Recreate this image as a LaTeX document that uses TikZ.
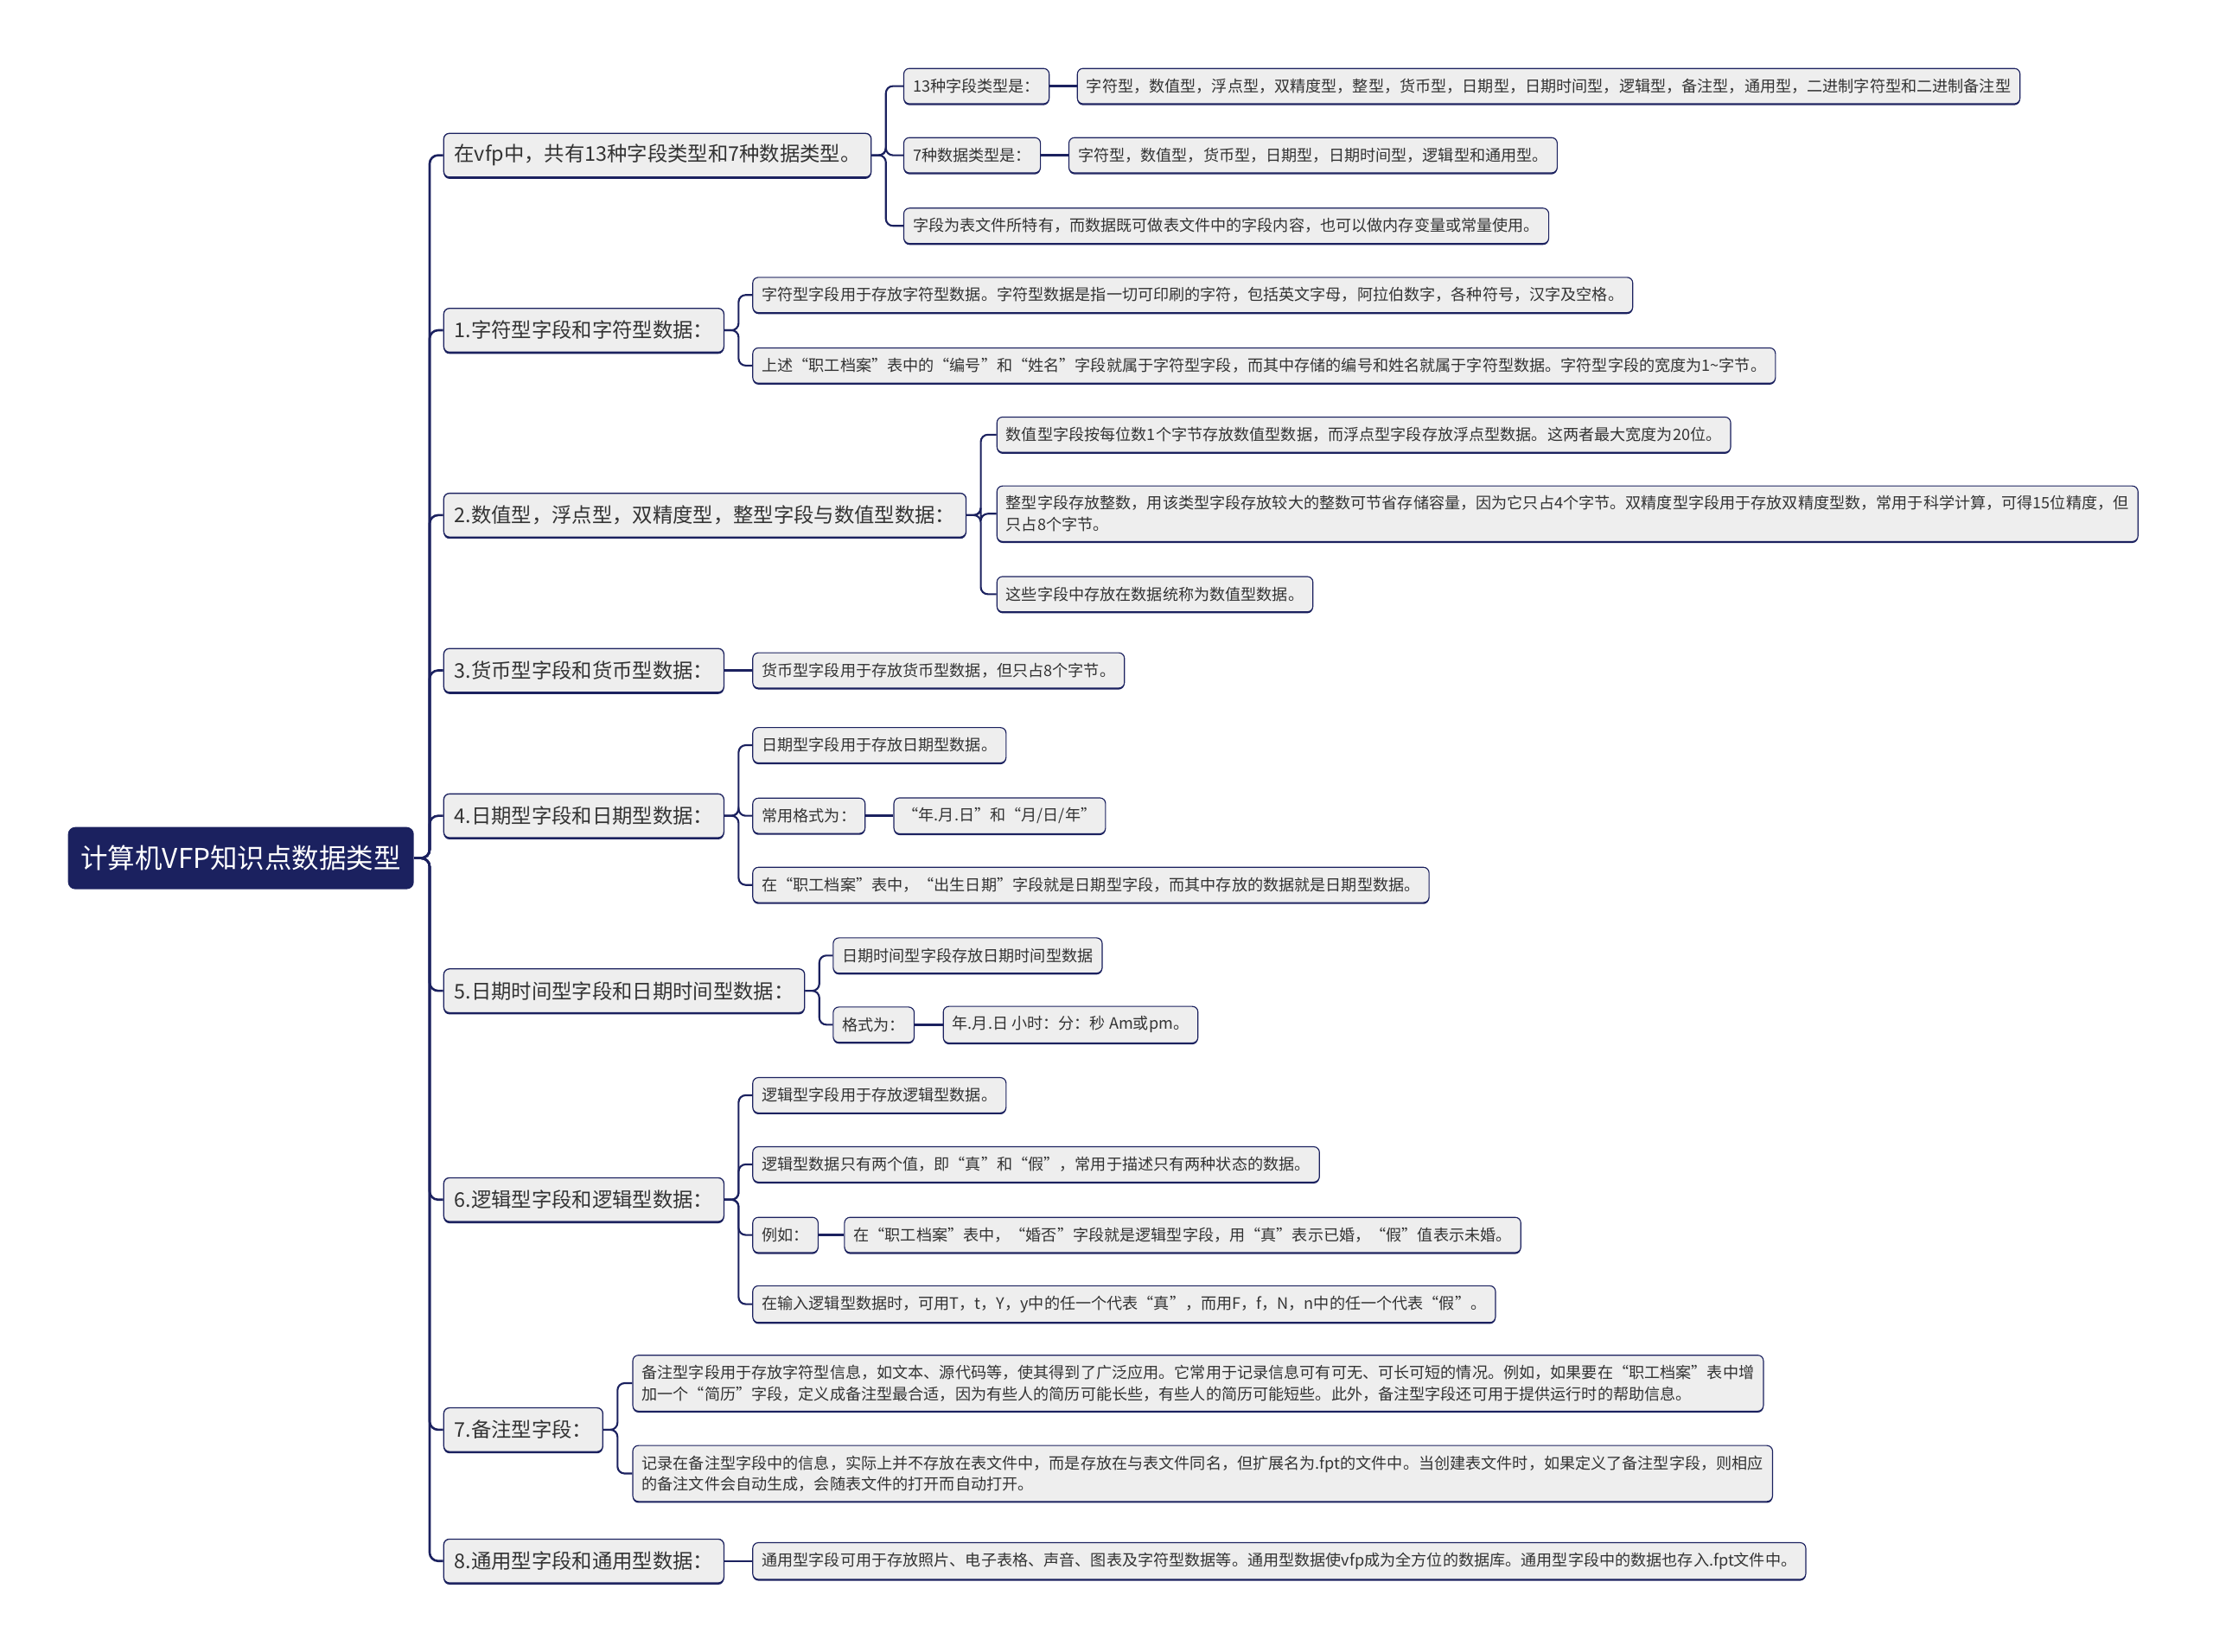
\documentclass[tikz,border=0pt]{standalone}
\usepackage{fontspec}
\setmainfont{Noto Sans CJK SC}
\usepackage{tikz}
\usetikzlibrary{positioning,shadows}
\definecolor{navy}{HTML}{1B215F}
\definecolor{boxbg}{HTML}{EEEEEE}
\definecolor{txt}{HTML}{333333}

\begin{document}
\begin{tikzpicture}[x=1pt, y=-1pt,
  rootbox/.style={anchor=west, fill=navy, text=white, rounded corners=5pt, minimum height=44pt, minimum width=245pt, inner xsep=9pt, font=\fontsize{19.3}{22}\selectfont},
  topicbox/.style={anchor=west, draw=navy, line width=0.8pt, fill=boxbg, text=txt, rounded corners=4pt, minimum height=31pt, inner xsep=7.5pt, font=\fontsize{14.3}{17}\selectfont, general shadow={fill=navy, shadow yshift=-1.2pt}},
  leafbox/.style={anchor=west, draw=navy, line width=0.7pt, fill=boxbg, text=txt, rounded corners=4pt, minimum height=25pt, inner xsep=6.5pt, inner ysep=7pt, align=left, font=\fontsize{11.1}{15}\selectfont, general shadow={fill=navy, shadow yshift=-1pt}},
  spine/.style={draw=navy, line width=1.6pt, rounded corners=6pt},
  linkline/.style={draw=navy, line width=1.3pt, rounded corners=5pt},
  pairline/.style={draw=navy, line width=2pt}]
\useasboundingbox (0,0) rectangle (1568,1170);

% centre and main topics
\node[rootbox] (vfp) at (48,608) {计算机VFP知识点数据类型};
\node[topicbox] (all) at (314,110) {在vfp中，共有13种字段类型和7种数据类型。};
\node[topicbox] (chr) at (314,234) {1.字符型字段和字符型数据：};
\node[topicbox] (num) at (314,365) {2.数值型，浮点型，双精度型，整型字段与数值型数据：};
\node[topicbox] (cur) at (314,475) {3.货币型字段和货币型数据：};
\node[topicbox] (dat) at (314,578) {4.日期型字段和日期型数据：};
\node[topicbox] (dtm) at (314,702) {5.日期时间型字段和日期时间型数据：};
\node[topicbox] (lgc) at (314,850) {6.逻辑型字段和逻辑型数据：};
\node[topicbox] (memo) at (314,1013) {7.备注型字段：};
\node[topicbox] (gen) at (314,1106) {8.通用型字段和通用型数据：};

% overview
\node[leafbox] (allA) at (640,61) {13种字段类型是：};
\node[leafbox] (allAx) at (763,61) {字符型，数值型，浮点型，双精度型，整型，货币型，日期型，日期时间型，逻辑型，备注型，通用型，二进制字符型和二进制备注型};
\node[leafbox] (allB) at (640,110) {7种数据类型是：};
\node[leafbox] (allBx) at (757,110) {字符型，数值型，货币型，日期型，日期时间型，逻辑型和通用型。};
\node[leafbox] (allC) at (640,160) {字段为表文件所特有，而数据既可做表文件中的字段内容，也可以做内存变量或常量使用。};

% 1 to 8
\node[leafbox] (chrA) at (533,209) {字符型字段用于存放字符型数据。字符型数据是指一切可印刷的字符，包括英文字母，阿拉伯数字，各种符号，汉字及空格。};
\node[leafbox] (chrB) at (533,259) {上述“职工档案”表中的“编号”和“姓名”字段就属于字符型字段，而其中存储的编号和姓名就属于字符型数据。字符型字段的宽度为1{\textasciitilde}字节。};
\node[leafbox] (numA) at (706,308) {数值型字段按每位数1个字节存放数值型数据，而浮点型字段存放浮点型数据。这两者最大宽度为20位。};
\node[leafbox] (numB) at (706,364) {整型字段存放整数，用该类型字段存放较大的整数可节省存储容量，因为它只占4个字节。双精度型字段用于存放双精度型数，常用于科学计算，可得15位精度，但\\只占8个字节。};
\node[leafbox] (numC) at (706,421) {这些字段中存放在数据统称为数值型数据。};
\node[leafbox] (curA) at (533,475) {货币型字段用于存放货币型数据，但只占8个字节。};
\node[leafbox] (datA) at (533,528) {日期型字段用于存放日期型数据。};
\node[leafbox] (datB) at (533,578) {常用格式为：};
\node[leafbox] (datBx) at (633,578) {“年.月.日”和“月/日/年”};
\node[leafbox] (datC) at (533,627) {在“职工档案”表中，“出生日期”字段就是日期型字段，而其中存放的数据就是日期型数据。};
\node[leafbox] (dtmA) at (590,677) {日期时间型字段存放日期时间型数据};
\node[leafbox] (dtmB) at (590,726) {格式为：};
\node[leafbox] (dtmBx) at (668,726) {年.月.日 小时：分：秒 Am或pm。};
\node[leafbox] (lgcA) at (533,776) {逻辑型字段用于存放逻辑型数据。};
\node[leafbox] (lgcB) at (533,825) {逻辑型数据只有两个值，即“真”和“假”，常用于描述只有两种状态的数据。};
\node[leafbox] (lgcC) at (533,875) {例如：};
\node[leafbox] (lgcCx) at (598,875) {在“职工档案”表中，“婚否”字段就是逻辑型字段，用“真”表示已婚，“假”值表示未婚。};
\node[leafbox] (lgcD) at (533,924) {在输入逻辑型数据时，可用T，t，Y，y中的任一个代表“真”，而用F，f，N，n中的任一个代表“假”。};
\node[leafbox] (memoA) at (448,980) {备注型字段用于存放字符型信息，如文本、源代码等，使其得到了广泛应用。它常用于记录信息可有可无、可长可短的情况。例如，如果要在“职工档案”表中增\\加一个“简历”字段，定义成备注型最合适，因为有些人的简历可能长些，有些人的简历可能短些。此外，备注型字段还可用于提供运行时的帮助信息。};
\node[leafbox] (memoB) at (448,1044) {记录在备注型字段中的信息，实际上并不存放在表文件中，而是存放在与表文件同名，但扩展名为.fpt的文件中。当创建表文件时，如果定义了备注型字段，则相应\\的备注文件会自动生成，会随表文件的打开而自动打开。};
\node[leafbox] (genA) at (533,1106) {通用型字段可用于存放照片、电子表格、声音、图表及字符型数据等。通用型数据使vfp成为全方位的数据库。通用型字段中的数据也存入.fpt文件中。};

% spine
\draw[spine] (vfp.east) -- ++(11,0) |- (all.west);
\draw[spine] (vfp.east) -- ++(11,0) |- (chr.west);
\draw[spine] (vfp.east) -- ++(11,0) |- (num.west);
\draw[spine] (vfp.east) -- ++(11,0) |- (cur.west);
\draw[spine] (vfp.east) -- ++(11,0) |- (dat.west);
\draw[spine] (vfp.east) -- ++(11,0) |- (dtm.west);
\draw[spine] (vfp.east) -- ++(11,0) |- (lgc.west);
\draw[spine] (vfp.east) -- ++(11,0) |- (memo.west);
\draw[spine] (vfp.east) -- ++(11,0) |- (gen.west);

% branches
\draw[linkline] (all.east) -- ++(10,0) |- (allA.west);
\draw[linkline] (all.east) -- ++(10,0) |- (allB.west);
\draw[linkline] (all.east) -- ++(10,0) |- (allC.west);
\draw[linkline] (chr.east) -- ++(10,0) |- (chrA.west);
\draw[linkline] (chr.east) -- ++(10,0) |- (chrB.west);
\draw[linkline] (num.east) -- ++(10,0) |- (numA.west);
\draw[linkline] (num.east) -- ++(10,0) |- (numB.west);
\draw[linkline] (num.east) -- ++(10,0) |- (numC.west);
\draw[linkline] (cur.east) -- (curA.west);
\draw[linkline] (dat.east) -- ++(10,0) |- (datA.west);
\draw[linkline] (dat.east) -- ++(10,0) |- (datB.west);
\draw[linkline] (dat.east) -- ++(10,0) |- (datC.west);
\draw[linkline] (dtm.east) -- ++(10,0) |- (dtmA.west);
\draw[linkline] (dtm.east) -- ++(10,0) |- (dtmB.west);
\draw[linkline] (lgc.east) -- ++(10,0) |- (lgcA.west);
\draw[linkline] (lgc.east) -- ++(10,0) |- (lgcB.west);
\draw[linkline] (lgc.east) -- ++(10,0) |- (lgcC.west);
\draw[linkline] (lgc.east) -- ++(10,0) |- (lgcD.west);
\draw[linkline] (memo.east) -- ++(10,0) |- (memoA.west);
\draw[linkline] (memo.east) -- ++(10,0) |- (memoB.west);
\draw[linkline] (gen.east) -- (genA.west);
\draw[pairline] (allA.east) -- (allAx.west);
\draw[pairline] (allB.east) -- (allBx.west);
\draw[pairline] (datB.east) -- (datBx.west);
\draw[pairline] (dtmB.east) -- (dtmBx.west);
\draw[pairline] (lgcC.east) -- (lgcCx.west);
\end{tikzpicture}
\end{document}
